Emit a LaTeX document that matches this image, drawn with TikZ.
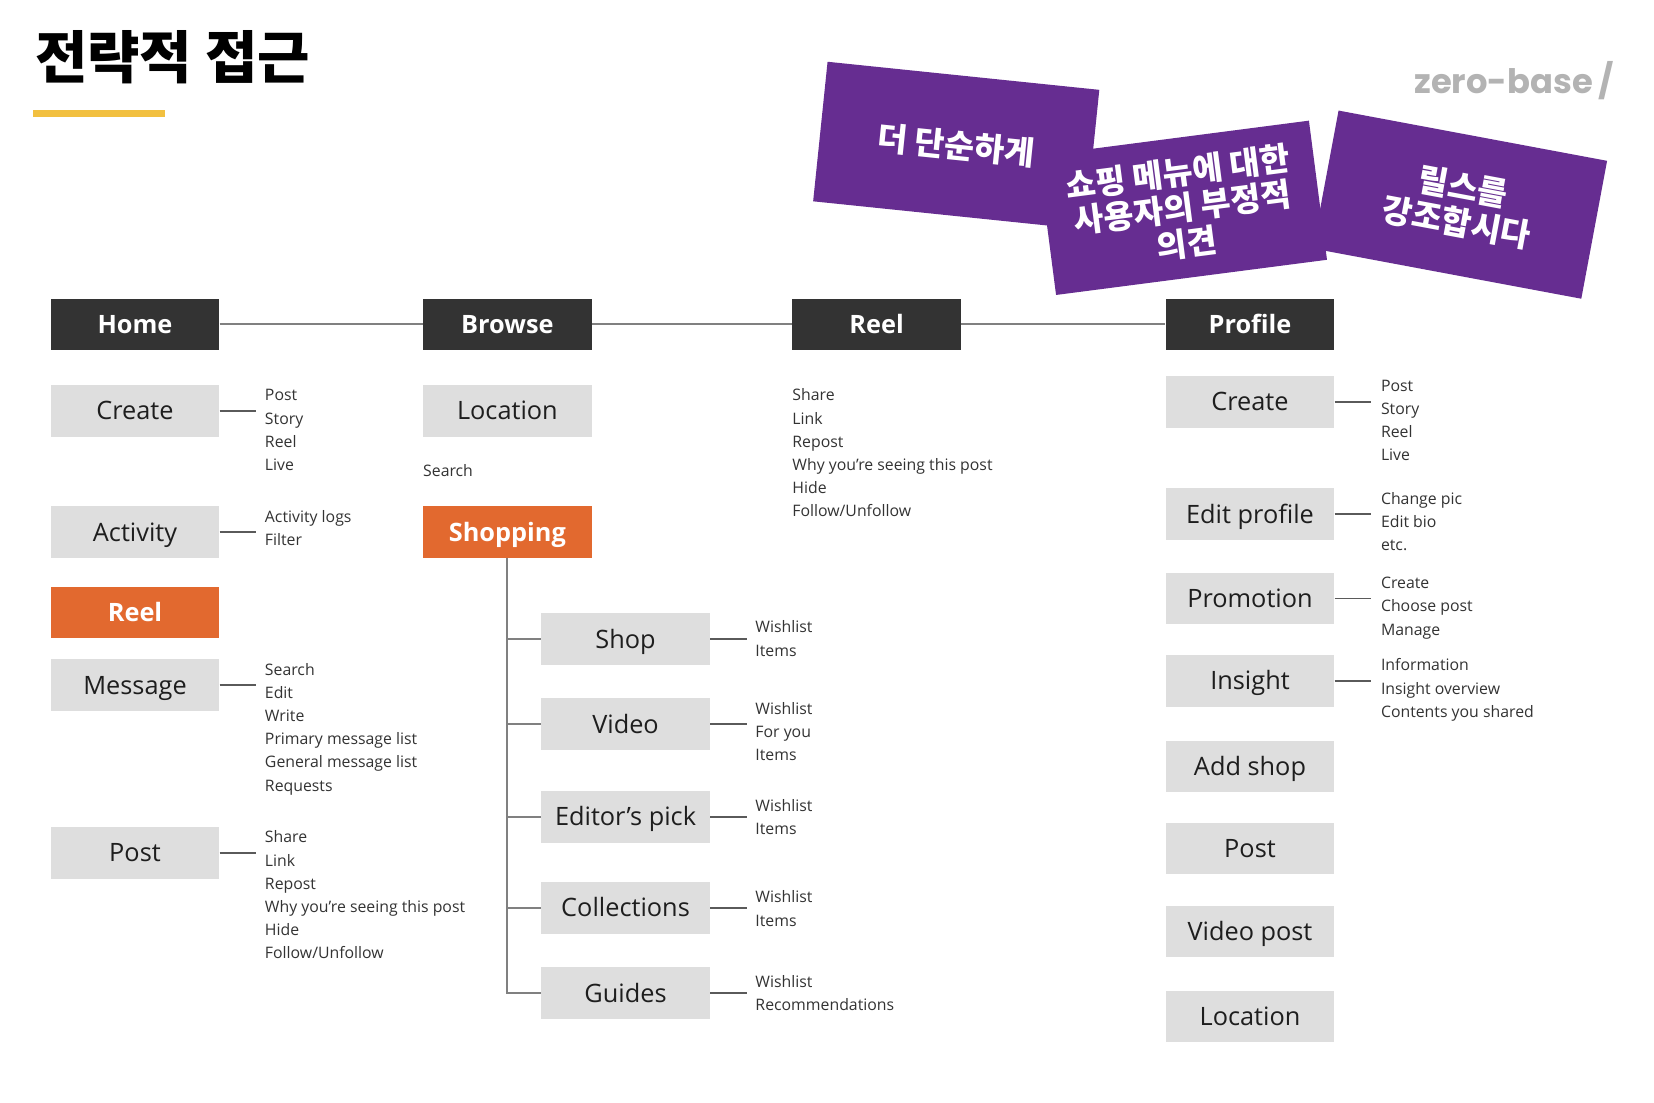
\documentclass[tikz,border=0pt]{standalone}
\usepackage{fontspec}
\setmainfont{Open Sans}
\newfontfamily\krfont{Noto Sans CJK KR}
\newfontfamily\zbfont{Poppins}
\definecolor{hdrc}{HTML}{333333}
\definecolor{boxc}{HTML}{DEDEDE}
\definecolor{orangec}{HTML}{E2692F}
\definecolor{purplec}{HTML}{662D91}
\definecolor{yellowc}{HTML}{F2C040}
\definecolor{zbc}{HTML}{B3B3B3}
\definecolor{linec}{HTML}{808080}
\definecolor{clinec}{HTML}{5A5A5A}
\definecolor{subc}{HTML}{333333}
\definecolor{txtc}{HTML}{1E1E1E}
\newcommand\mysublist[4]{%
  \foreach \t [count=\i] in {#4} {%
    \node[subtxt, anchor=base west] (#1-\i) at (#2, {#3 + 5 + 22*(\i-1)}) {\t};}}
\begin{document}
\begin{tikzpicture}[x=1pt,y=-1pt,
  hdr/.style={fill=hdrc, text=white, font=\fontsize{24}{28}\selectfont\bfseries,
    minimum width=160pt, minimum height=49pt, inner sep=0pt, text height=17pt, text depth=0pt},
  gbox/.style={fill=boxc, text=txtc, font=\fontsize{24}{28}\selectfont,
    minimum width=160pt, minimum height=49pt, inner sep=0pt, text height=17pt, text depth=0pt},
  obox/.style={gbox, fill=orangec, text=white, font=\fontsize{24}{28}\selectfont\bfseries},
  subtxt/.style={font=\fontsize{15}{22}\selectfont, text=subc, inner sep=0pt},
  hline/.style={draw=linec, line width=2pt},
  cline/.style={draw=clinec, line width=1.5pt},
  trunk/.style={draw=linec, line width=2pt},
  card/.style={fill=purplec, minimum width=259pt, minimum height=133pt, inner sep=0pt,
    text=white, align=center, font=\krfont\bfseries\fontsize{31}{34}\selectfont},
]
\useasboundingbox[fill=white] (0,0) rectangle (1568,1045);

% title
\node[anchor=west, inner sep=0pt, font=\krfont\bfseries\fontsize{54}{60}\selectfont, text=black] (title) at (33,54) {전략적 접근};
\fill[yellowc] (31,104) rectangle (156,111);
\node[anchor=east, inner sep=0pt, font=\zbfont\bfseries\fontsize{32}{36}\selectfont, text=zbc] (zb) at (1530,76) {zero-base\,/};

% cards
\node[card, rotate=-5.9] (c1) at (906.5,138) {더 단순하게};
\node[card, rotate=7.4] (c2) at (1121,197) {쇼핑 메뉴에 대한\\사용자의 부정적\\의견};
\node[card, rotate=-10.6] (c3) at (1384,194) {릴스를\\강조합시다};

% headers
\node[hdr] (home) at (128,307.5) {Home};
\node[hdr] (browse) at (481,307.5) {Browse};
\node[hdr] (reel) at (831,307.5) {Reel};
\node[hdr] (profile) at (1185,307.5) {Profile};
\draw[hline] (home.east) -- (browse.west) (browse.east) -- (reel.west) (reel.east) -- (profile.west);

% column 1
\node[gbox] (hcreate) at (128,389.5) {Create};
\node[gbox] (hact) at (128,504.5) {Activity};
\node[obox] (hreel) at (128,580.5) {Reel};
\node[gbox] (hmsg) at (128,649.5) {Message};
\node[gbox] (hpost) at (128,808.5) {Post};
\coordinate (hcreateE) at (243,389.5);
\coordinate (hactE) at (243,504.5);
\coordinate (hmsgE) at (243,649.5);
\coordinate (hpostE) at (243,808.5);
\draw[cline] (hcreate.east) -- (hcreateE);
\draw[cline] (hact.east) -- (hactE);
\draw[cline] (hmsg.east) -- (hmsgE);
\draw[cline] (hpost.east) -- (hpostE);
\mysublist{lhc}{251}{375}{Post,Story,Reel,Live}
\mysublist{lha}{251}{490}{Activity logs,Filter}
\mysublist{lhm}{251}{635}{Search,Edit,Write,Primary message list,General message list,Requests}
\mysublist{lhp}{251}{794}{Share,Link,Repost,Why you're seeing this post,Hide,Follow/Unfollow}

% column 2
\node[gbox] (bloc) at (481,389.5) {Location};
\node[subtxt, anchor=base west] (bsearch) at (401,452) {Search};
\node[obox] (bshop) at (481,504.5) {Shopping};
\node[gbox] (shop) at (593,606) {Shop};
\node[gbox] (video) at (593,686.5) {Video};
\node[gbox] (edpick) at (593,774.5) {Editor’s pick};
\node[gbox] (coll) at (593,860.5) {Collections};
\node[gbox] (guides) at (593,941.5) {Guides};
\draw[trunk] (bshop.south) |- (guides.west);
\foreach \n in {shop,video,edpick,coll} {\draw[trunk] (bshop.south) |- (\n.west);}
\coordinate (shopE) at (708,606);
\coordinate (videoE) at (708,686.5);
\coordinate (edpickE) at (708,774.5);
\coordinate (collE) at (708,860.5);
\coordinate (guidesE) at (708,941.5);
\foreach \n in {shop,video,edpick,coll,guides} {\draw[cline] (\n.east) -- (\n E);}
\mysublist{ls}{716}{595}{Wishlist,Items}
\mysublist{lv}{716}{672}{Wishlist,For you,Items}
\mysublist{le}{716}{764}{Wishlist,Items}
\mysublist{lc}{716}{851}{Wishlist,Items}
\mysublist{lg}{716}{931}{Wishlist,Recommendations}

% column 3
\mysublist{lr}{751}{375}{Share,Link,Repost,Why you're seeing this post,Hide,Follow/Unfollow}

% column 4
\node[gbox] (pcreate) at (1185,381) {Create};
\node[gbox] (pedit) at (1185,487.5) {Edit profile};
\node[gbox] (pprom) at (1185,567.5) {Promotion};
\node[gbox] (pins) at (1185,645.5) {Insight};
\node[gbox] (padd) at (1185,726.5) {Add shop};
\node[gbox] (ppost) at (1185,804.5) {Post};
\node[gbox] (pvid) at (1185,883) {Video post};
\node[gbox] (ploc) at (1185,963.5) {Location};
\coordinate (pcreateE) at (1300,381);
\coordinate (peditE) at (1300,487.5);
\coordinate (ppromE) at (1300,567.5);
\coordinate (pinsE) at (1300,645.5);
\foreach \n in {pcreate,pedit,pprom,pins} {\draw[cline] (\n.east) -- (\n E);}
\mysublist{lpc}{1309}{366}{Post,Story,Reel,Live}
\mysublist{lpe}{1309}{473}{Change pic,Edit bio,etc.}
\mysublist{lpp}{1309}{553}{Create,Choose post,Manage}
\mysublist{lpi}{1309}{631}{Information,Insight overview,Contents you shared}
\end{tikzpicture}
\end{document}
